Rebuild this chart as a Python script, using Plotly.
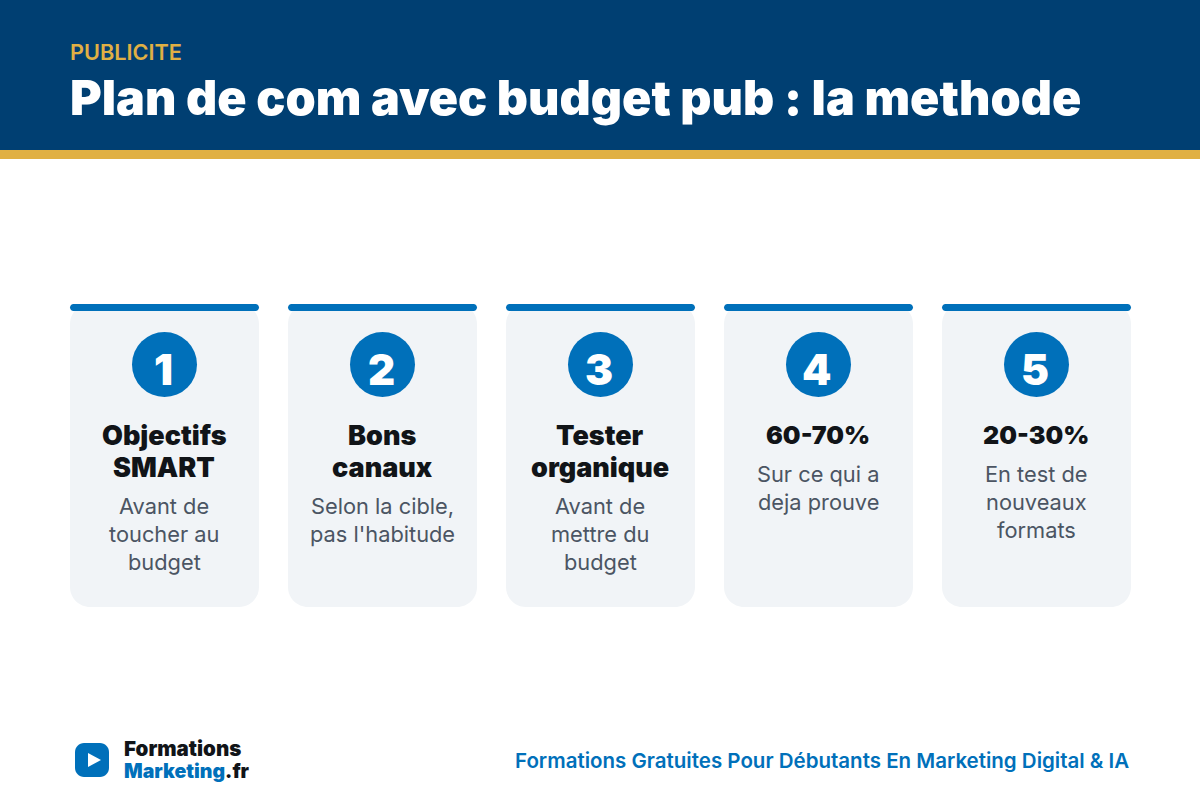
import plotly.graph_objects as go

# card contents
step_numbers = ["1", "2", "3", "4", "5"]
step_titles = [["Objectifs", "SMART"], ["Bons", "canaux"], ["Tester", "organique"], ["60-70%"], ["20-30%"]]
step_texts = [
    ["Avant de", "toucher au", "budget"],
    ["Selon la cible,", "pas l'habitude"],
    ["Avant de", "mettre du", "budget"],
    ["Sur ce qui a", "deja prouve"],
    ["En test de", "nouveaux", "formats"],
]
kicker = "PUBLICITE"
headline = "Plan de com avec budget pub : la methode"
tagline = "Formations Gratuites Pour Débutants En Marketing Digital & IA"

NAVY = "#003F72"
GOLD = "#E0B044"
BLUE = "#0070BA"
CARD = "#F1F4F7"
DARK = "#111418"
GREY = "#4B5563"
FONT = "Inter"


def round_rect(x0, y0, x1, y1, r):
    k = r * 0.45  # bezier handle for a round corner
    return (f"M{x0+r},{y0} L{x1-r},{y0} C{x1-k},{y0} {x1},{y0+k} {x1},{y0+r} "
            f"L{x1},{y1-r} C{x1},{y1-k} {x1-k},{y1} {x1-r},{y1} "
            f"L{x0+r},{y1} C{x0+k},{y1} {x0},{y1-k} {x0},{y1-r} "
            f"L{x0},{y0+r} C{x0},{y0+k} {x0+k},{y0} {x0+r},{y0} Z")


def label(x, y, text, size, color, weight=400, anchor="center"):
    fig.add_annotation(x=x, y=y, text=text, showarrow=False, xanchor=anchor, yanchor="middle",
                       borderpad=0, borderwidth=0,
                       font=dict(family=FONT, size=size, color=color, weight=weight))


fig = go.Figure()

# header band
fig.add_shape(type="rect", x0=0, x1=1200, y0=0, y1=150, fillcolor=NAVY, line_width=0, layer="below")
fig.add_shape(type="rect", x0=0, x1=1200, y0=150, y1=159, fillcolor=GOLD, line_width=0, layer="below")
label(70, 52, kicker, 21.7, GOLD, weight=600, anchor="left")
label(70, 97, headline, 48.4, "white", weight=900, anchor="left")

# cards
centers = [164.5 + 218 * i for i in range(len(step_numbers))]
for i, cx in enumerate(centers):
    x0, x1 = cx - 94.5, cx + 94.5
    fig.add_shape(type="path", path=round_rect(x0, 304, x1, 607, 20), fillcolor=CARD, line_width=0, layer="below")
    fig.add_shape(type="path", path=round_rect(x0, 304, x1, 311, 3.5), fillcolor=BLUE, line_width=0, layer="below")
    label(cx - 1.5, 369, step_numbers[i], 42, "white", weight=900)
    y = 435
    for line in step_titles[i]:
        # the percent lines run wide in this font
        label(cx - 0.5, y, line, 25 if "%" in line else 27, DARK, weight=900)
        y += 32
    y += 7
    for line in step_texts[i]:
        label(cx - 0.5, y, line, 21.8, GREY)
        y += 28

fig.add_trace(go.Scatter(x=centers, y=[364.5] * len(centers), mode="markers", hoverinfo="skip",
                         marker=dict(size=65, color=BLUE, line_width=0)))

# footer logo
fig.add_shape(type="path", path=round_rect(75, 743, 109, 777, 9), fillcolor=BLUE, line_width=0)
fig.add_shape(type="path", path="M88,753 L88,767 L101,760 Z", fillcolor="white", line_width=0)
label(124, 748, "Formations", 20.5, DARK, weight=900, anchor="left")
label(124, 770.5, f"<span style='color:{BLUE}'>Marketing</span>.fr", 19.5, DARK, weight=900, anchor="left")
label(1129, 760, tagline, 20.5, BLUE, weight=600, anchor="right")

fig.update_xaxes(range=[0, 1200], visible=False, fixedrange=True)
fig.update_yaxes(range=[800, 0], visible=False, fixedrange=True)
fig.update_layout(width=1200, height=800, margin=dict(l=0, r=0, t=0, b=0), showlegend=False,
                  paper_bgcolor="white", plot_bgcolor="white")
fig.write_html("out.html", config=dict(displayModeBar=False),
               post_script="document.body.style.margin = '0';")
